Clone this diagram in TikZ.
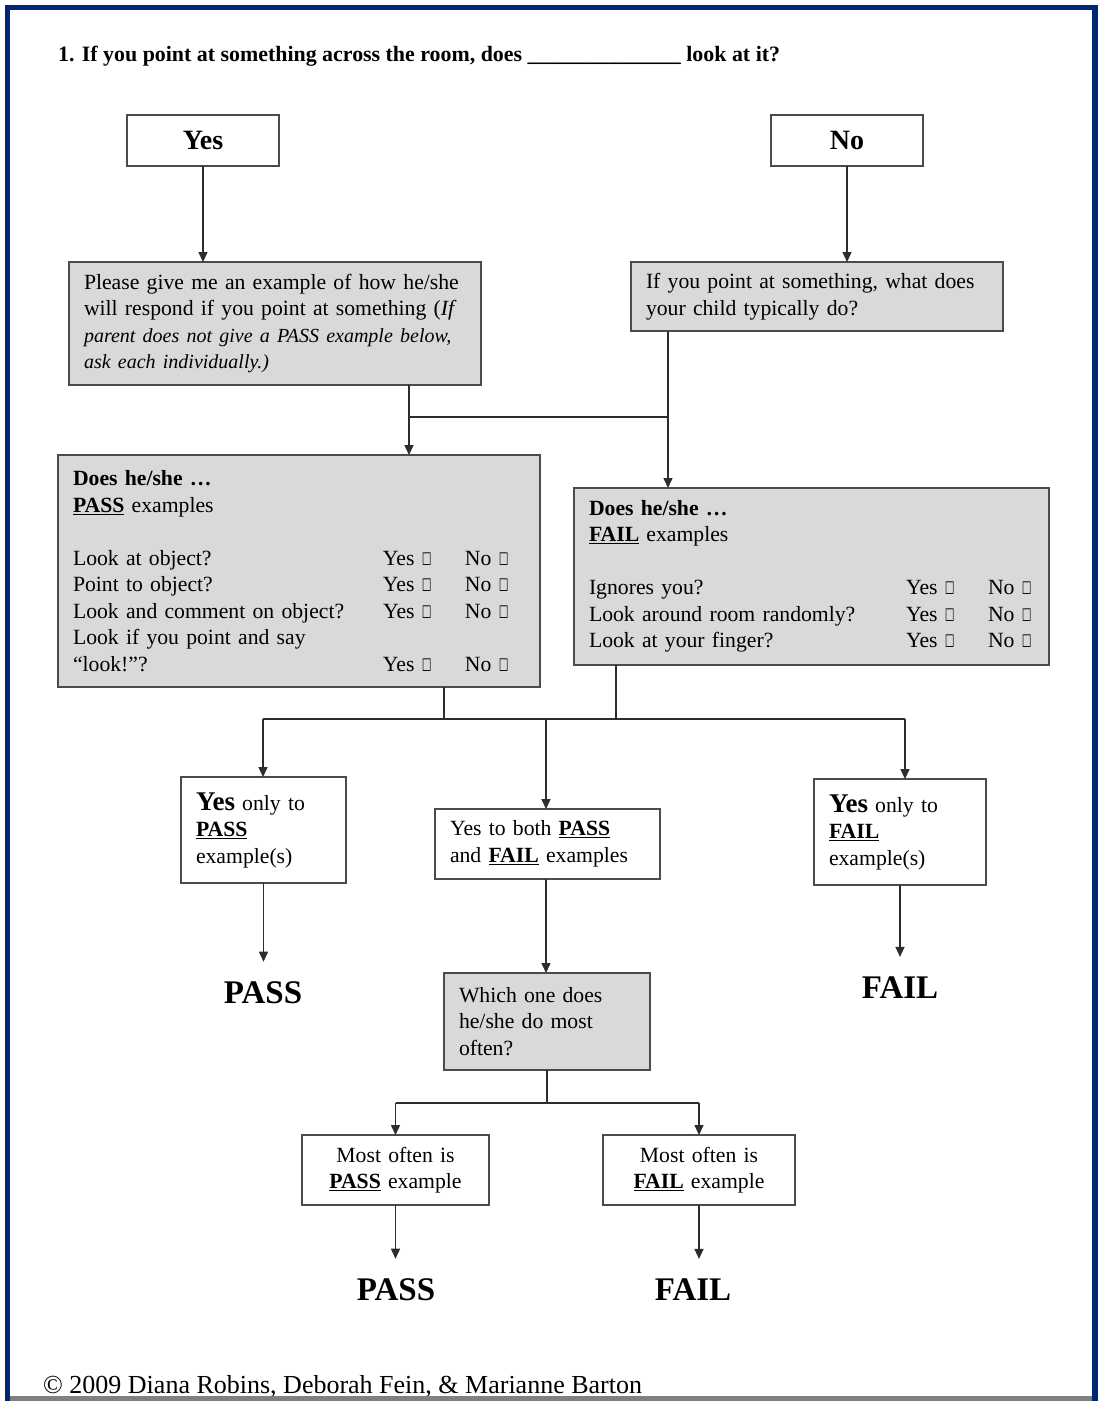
\documentclass[tikz,border=0pt]{standalone}
\usepackage{fontspec}
\setmainfont{Liberation Serif}
\newfontfamily\symf{DejaVu Sans}
\usetikzlibrary{arrows.meta}
\definecolor{frameblue}{RGB}{0,38,120}
\definecolor{boxgray}{RGB}{217,217,217}
\definecolor{edgecol}{RGB}{75,75,75}
\definecolor{linecol}{RGB}{45,45,45}
\definecolor{bottomgray}{RGB}{128,128,128}
\newcommand{\cbx}{{\symf\scalebox{0.5}[0.8]{☐}}}
\newcommand{\ulb}[1]{\textbf{\underline{#1}}}
\newcommand{\smit}[1]{{\fontsize{20}{26.5}\selectfont\itshape #1}}
\tikzset{
  boxbase/.style={draw=edgecol, line width=1.8pt, inner xsep=15pt, inner ysep=0pt,
    outer sep=0pt, anchor=north west, align=left,
    font=\fontsize{21.7}{26.5}\selectfont},
  gbox/.style={boxbase, fill=boxgray},
  wbox/.style={boxbase, fill=white},
  arr/.style={draw=linecol, line width=1.4pt, -{Triangle[width=9pt,length=10pt]}},
  ln/.style={draw=linecol, line width=1.4pt},
  result/.style={font=\fontsize{33}{38}\selectfont\bfseries, inner xsep=2pt, inner ysep=20pt},
}
\begin{document}
\begin{tikzpicture}[x=1pt,y=-1pt]
\useasboundingbox (0,0) rectangle (1099,1401);
\fill[white] (0,0) rectangle (1099,1401);

% title
\node[anchor=base west, inner sep=0pt, font=\fontsize{21.9}{26}\selectfont\bfseries] (title) at (58,61)
  {1. If you point at something across the room, does \_\_\_\_\_\_\_\_\_\_\_\_\_\_ look at it?};

% top boxes
\node[wbox, align=center, text width=122pt, minimum width=152pt, minimum height=51pt,
      font=\fontsize{28}{32}\selectfont\bfseries] (yes) at (127,115) {Yes};
\node[wbox, align=center, text width=122pt, minimum width=152pt, minimum height=51pt,
      font=\fontsize{28}{32}\selectfont\bfseries] (no) at (771,115) {No};

\node[gbox, text width=382pt, minimum width=412pt, minimum height=123pt] (please) at (69,262)
  {\mbox{Please give me an example of how he/she}\\
   \mbox{will respond if you point at something (\textit{If}}\\
   \mbox{\smit{parent does not give a PASS example below,}}\\
   \mbox{\smit{ask each individually.)}}};

\node[gbox, text width=342pt, minimum width=372pt, minimum height=69pt] (ifpoint) at (631,262)
  {If you point at something, what does\\
   your child typically do?};

% example boxes
\node[gbox, text width=452pt, minimum width=482pt, minimum height=232pt] (passex) at (58,455)
  {\textbf{Does he/she …}\\
   \ulb{PASS} examples\\[26.5pt]
   \makebox[310pt][l]{Look at object?}\makebox[82pt][l]{Yes \cbx}No \cbx\\
   \makebox[310pt][l]{Point to object?}\makebox[82pt][l]{Yes \cbx}No \cbx\\
   \makebox[310pt][l]{Look and comment on object?}\makebox[82pt][l]{Yes \cbx}No \cbx\\
   Look if you point and say\\
   \makebox[310pt][l]{“look!”?}\makebox[82pt][l]{Yes \cbx}No \cbx};

\node[gbox, text width=445pt, minimum width=475pt, minimum height=177pt] (failex) at (574,488)
  {\textbf{Does he/she …}\\
   \ulb{FAIL} examples\\[26.5pt]
   \makebox[317pt][l]{Ignores you?}\makebox[82pt][l]{Yes \cbx}No \cbx\\
   \makebox[317pt][l]{Look around room randomly?}\makebox[82pt][l]{Yes \cbx}No \cbx\\
   \makebox[317pt][l]{Look at your finger?}\makebox[82pt][l]{Yes \cbx}No \cbx};

% outcome boxes
\node[wbox, text width=135pt, minimum width=165pt, minimum height=106pt] (onlypass) at (181,777)
  {{\fontsize{27}{30}\selectfont\bfseries Yes} only to\\ \ulb{PASS}\\ example(s)};
\node[wbox, text width=195pt, minimum width=225pt, minimum height=70pt] (both) at (435,809)
  {Yes to both \ulb{PASS}\\ and \ulb{FAIL} examples};
\node[wbox, text width=142pt, minimum width=172pt, minimum height=106pt] (onlyfail) at (814,779)
  {{\fontsize{27}{30}\selectfont\bfseries Yes} only to\\ \ulb{FAIL}\\ example(s)};

\node[gbox, text width=176pt, minimum width=206pt, minimum height=97pt] (which) at (444,973)
  {Which one does\\ he/she do most\\ often?};

\node[wbox, align=center, text width=157pt, minimum width=187pt, minimum height=70pt] (mostpass) at (302,1135)
  {Most often is\\ \ulb{PASS} example};
\node[wbox, align=center, text width=162pt, minimum width=192pt, minimum height=70pt] (mostfail) at (603,1135)
  {Most often is\\ \ulb{FAIL} example};

% results
\node[result] (pass1) at (263,993) {PASS};
\node[result] (fail1) at (900,988) {FAIL};
\node[result] (pass2) at (396,1290) {PASS};
\node[result] (fail2) at (693,1290) {FAIL};

% copyright
\node[anchor=base west, inner sep=0pt, font=\fontsize{26}{30}\selectfont] (copy) at (43,1393)
  {© 2009 Diana Robins, Deborah Fein, \& Marianne Barton};

% helper coordinates
\coordinate (pd) at (409,417);
\coordinate (fd) at (668,417);
\coordinate (pb) at (444,719);
\coordinate (fb) at (616,719);
\coordinate (bl) at (263,719);
\coordinate (bm) at (546,719);
\coordinate (br) at (905,719);
\coordinate (wj) at (547,1103);

% connectors
\draw[arr] (yes.south) -- (yes.south |- please.north);
\draw[arr] (no.south) -- (no.south |- ifpoint.north);
\draw[arr] (please.south -| pd) -- (passex.north -| pd);
\draw[ln] (pd) -- (fd);
\draw[arr] (ifpoint.south -| fd) -- (failex.north -| fd);

\draw[ln] (passex.south -| pb) -- (pb);
\draw[ln] (failex.south -| fb) -- (fb);
\draw[ln] (bl) -- (br);
\draw[arr] (bl) -- (onlypass.north -| bl);
\draw[arr] (bm) -- (both.north -| bm);
\draw[arr] (br) -- (onlyfail.north -| br);

\draw[arr] (onlypass.south) -- (onlypass.south |- pass1.north);
\draw[arr] (onlyfail.south) -- (onlyfail.south |- fail1.north);
\draw[arr] (both.south -| bm) -- (which.north -| bm);

\draw[ln] (which.south -| wj) -- (wj);
\draw[ln] (wj -| mostpass.north) -- (wj -| mostfail.north);
\draw[arr] (wj -| mostpass.north) -- (mostpass.north);
\draw[arr] (wj -| mostfail.north) -- (mostfail.north);
\draw[arr] (mostpass.south) -- (mostpass.south |- pass2.north);
\draw[arr] (mostfail.south) -- (mostfail.south |- fail2.north);

% page frame
\fill[bottomgray] (8,1396) rectangle (1092,1401);
\draw[frameblue, line width=5.5pt] (7.5,1405) -- (7.5,7.5) -- (1095,7.5) -- (1095,1405);
\end{tikzpicture}
\end{document}
